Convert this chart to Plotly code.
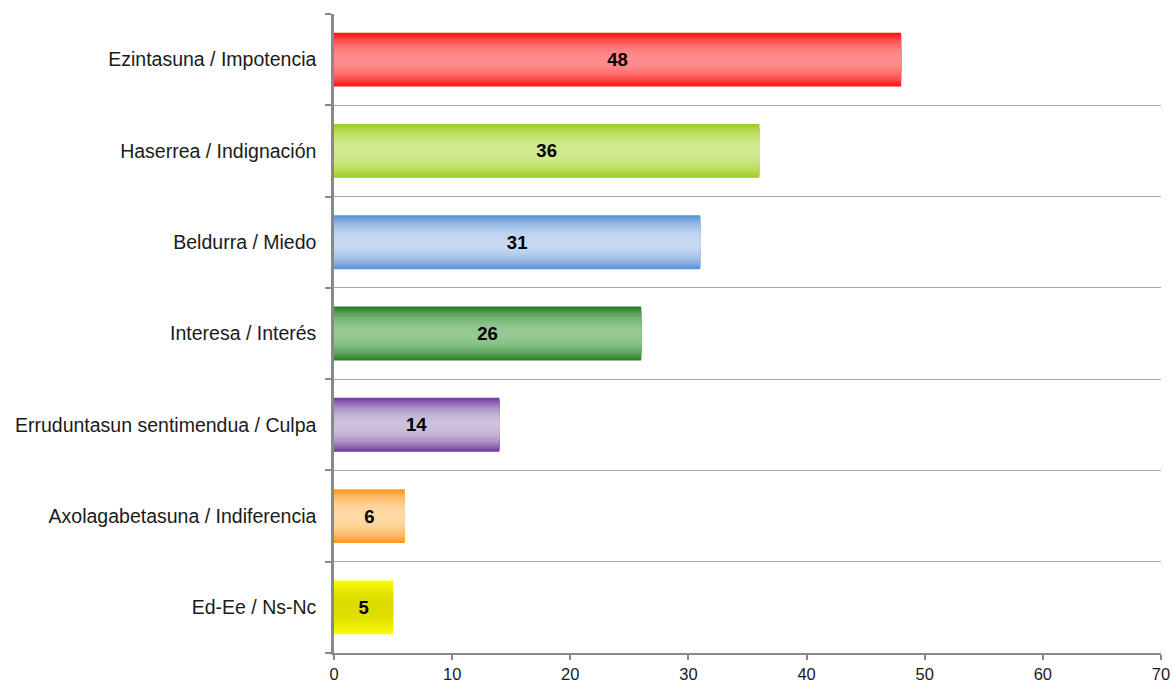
import plotly.graph_objects as go

categories = [
    "Ezintasuna / Impotencia",
    "Haserrea / Indignación",
    "Beldurra / Miedo",
    "Interesa / Interés",
    "Erruduntasun sentimendua / Culpa",
    "Axolagabetasuna / Indiferencia",
    "Ed-Ee / Ns-Nc",
]
values = [48, 36, 31, 26, 14, 6, 5]
x_ticks = [0, 10, 20, 30, 40, 50, 60, 70]

edge_colors = ["#FF0A0A", "#99CC1A", "#548DD4", "#1F7A1F", "#7030A0", "#FF9419", "#FFFF00"]
mid_colors = ["#FF8C8C", "#D2E98F", "#C6D9F1", "#93CA93", "#CCC1DA", "#FFD9A6", "#DCDC00"]

FONT = "Liberation Sans, Arial, sans-serif"
BAR_W = 0.59
N_LAYERS = 18


def hex2rgb(h):
    h = h.lstrip("#")
    return tuple(int(h[i:i + 2], 16) for i in (0, 2, 4))


def mix(c1, c2, f):
    a, b = hex2rgb(c1), hex2rgb(c2)
    return "rgb(%d,%d,%d)" % tuple(round(a[i] + (b[i] - a[i]) * f) for i in range(3))


idx = list(range(len(categories)))
fig = go.Figure()

for k in range(N_LAYERS):
    w = BAR_W * (1 - k / N_LAYERS)
    t = 1 - (k + 0.5) / N_LAYERS
    f = 1 - t ** 2.2
    cols = [mix(e, m, f) for e, m in zip(edge_colors, mid_colors)]
    fig.add_trace(go.Bar(
        x=values, y=idx, orientation="h", width=w,
        marker=dict(color=cols, line=dict(width=0)),
        hoverinfo="skip", showlegend=False,
    ))

# value labels on a transparent full-size bar on the overlay axis
fig.add_trace(go.Bar(
    x=values, y=idx, orientation="h", width=BAR_W, yaxis="y2",
    marker=dict(color="rgba(0,0,0,0)", line=dict(width=0)),
    text=[str(v) for v in values], textposition="inside",
    insidetextanchor="middle", textangle=0,
    textfont=dict(family=FONT, size=18.5, color="black", weight="bold"),
    hoverinfo="skip", showlegend=False,
))

axis_col = "#898989"
grid_col = "#A6A6A6"
yrange = [len(categories) - 0.5, -0.5]
bounds = [i + 0.5 for i in range(-1, len(categories))]

fig.update_layout(
    width=1174, height=682,
    margin=dict(l=334, r=13, t=14, b=29),
    paper_bgcolor="white", plot_bgcolor="white",
    barmode="overlay",
    font=dict(family=FONT, size=19, color="#1a1a1a"),
    xaxis=dict(
        range=[0, 70], tickmode="array", tickvals=x_ticks,
        showgrid=False, zeroline=False, automargin=False,
        showline=True, linecolor=axis_col, linewidth=2,
        ticks="outside", ticklen=5, tickwidth=2, tickcolor=axis_col,
        tickfont=dict(size=16.5, color="#1a1a1a"),
    ),
    yaxis=dict(
        range=yrange, tickmode="array", tickvals=idx, ticktext=categories,
        showgrid=False, zeroline=False, automargin=False,
        showline=True, linecolor=axis_col, linewidth=2.5,
        ticks="", ticklen=0, ticklabelstandoff=11,
        minor=dict(tickmode="array", tickvals=bounds, ticks="outside",
                   ticklen=6, tickwidth=2, tickcolor=axis_col, showgrid=False),
        tickfont=dict(size=19.5, color="#1a1a1a"),
    ),
    yaxis2=dict(
        range=yrange, overlaying="y", side="left", automargin=False,
        tickmode="array", tickvals=bounds[1:-1],
        showticklabels=False, ticks="", showline=False, zeroline=False,
        showgrid=True, gridcolor=grid_col, gridwidth=1,
    ),
)

fig.write_html(
    "out.html",
    config={"displayModeBar": False},
    post_script="document.body.style.margin='0';document.body.style.overflow='hidden';",
)
